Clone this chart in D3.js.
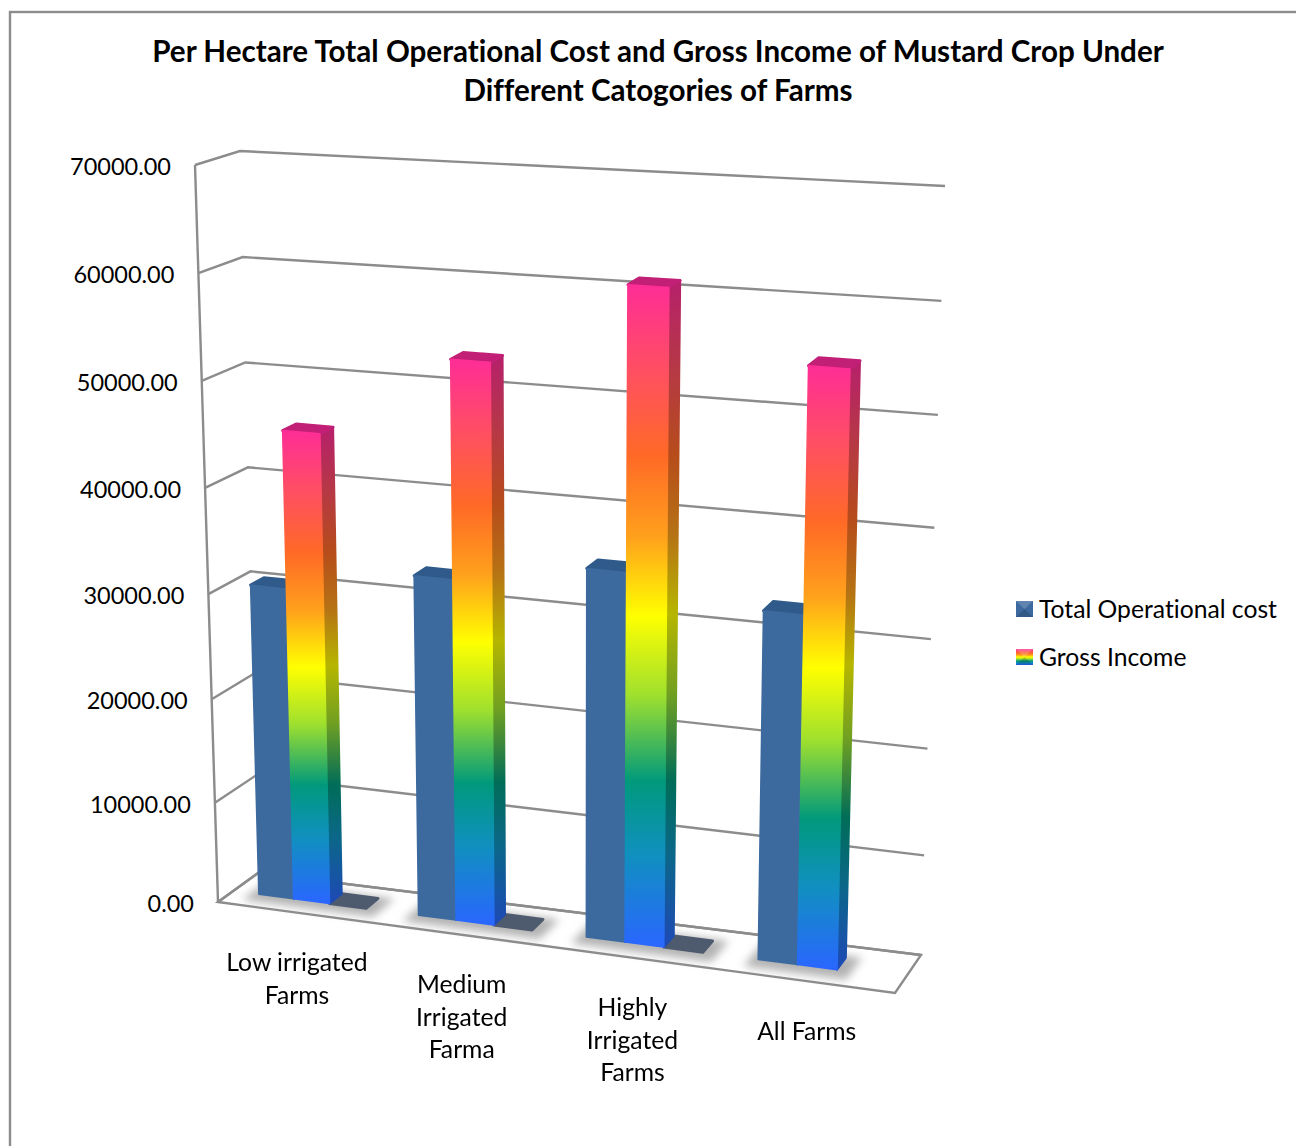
<!DOCTYPE html>
<html>
<head>
<meta charset="utf-8">
<script src="https://cdn.jsdelivr.net/npm/d3@7"></script>
<style>
  html, body { margin: 0; padding: 0; background: #fff; }
  svg { display: block; }
  text { font-family: Lato, "Open Sans", sans-serif; fill: #000; font-variant-ligatures: none; }
</style>
</head>
<body>
<div id="chart"></div>
<script>
////////////////////////////////////////////////////////////////////////
// Data

let titleLines = ["Per Hectare Total Operational Cost and Gross Income of Mustard Crop Under",
                  "Different Catogories of Farms"];
let categories = ["Low irrigated Farms", "Medium Irrigated Farma", "Highly Irrigated Farms", "All Farms"];
let categoryLines = [["Low irrigated", "Farms"],
                     ["Medium", "Irrigated", "Farma"],
                     ["Highly", "Irrigated", "Farms"],
                     ["All Farms"]];
let operationalCost = [30300, 32800, 35100, 32900];
let grossIncome = [45200, 53100, 61000, 55000];
// a third, unnamed series sits flat on the floor in the first three groups
let unnamedSeries = [0, 0, 0, null];
let yTicks = [0, 10000, 20000, 30000, 40000, 50000, 60000, 70000];
let legendNames = ["Total Operational cost", "Gross Income"];

let rainbowOffsets = [0, 0.13, 0.26, 0.38, 0.5, 0.62, 0.75, 0.86, 1];
let rainbowColors = ["#ff2d96", "#ff4f62", "#ff6a26", "#ffa01c", "#ffff00", "#9fe02e", "#00997c", "#1090bf", "#2a66ff"];

////////////////////////////////////////////////////////////////////////
// Setup

let width = 1296;
let height = 1146;

let svg = d3.select("#chart")
  .append("svg")
  .attr("width", width).attr("height", height);

let defs = svg.append("defs");

function addGradient(id, colorFn) {
  let g = defs.append("linearGradient")
    .attr("id", id)
    .attr("x1", 0).attr("y1", 0).attr("x2", 0).attr("y2", 1);
  rainbowColors.forEach(function(c, i) {
    g.append("stop").attr("offset", rainbowOffsets[i]).attr("stop-color", colorFn(c));
  });
}
addGradient("rainbow", function(c) { return c; });
addGradient("rainbowSide", function(c) { return d3.color(c).darker(0.95).formatHex(); });

defs.append("filter").attr("id", "blur")
  .attr("x", "-30%").attr("y", "-80%").attr("width", "160%").attr("height", "260%")
  .append("feGaussianBlur").attr("stdDeviation", 4);

////////////////////////////////////////////////////////////////////////
// The fake 3d box: each corner of the box is a pair of scales running
// from the floor to the top of the chart

function cornerScale(bottom, top, exponent) {
  return {
    x: d3.scalePow().exponent(exponent).domain([0, 70000]).range([bottom[0], top[0]]),
    y: d3.scalePow().exponent(exponent).domain([0, 70000]).range([bottom[1], top[1]])
  };
}
let frontLeft = cornerScale([218, 902], [195, 165], 1.03);
let backLeft = cornerScale([258, 873], [240, 151], 1.03);
let backRight = cornerScale([921, 955], [945, 186], 1.05);
let frontRight = cornerScale([895, 993], [914, 209], 1.05);

// u runs along the categories, z runs from the front of the box to the back
function project(u, value, z) {
  let fx = frontLeft.x(value) + (frontRight.x(value) - frontLeft.x(value)) * u;
  let fy = frontLeft.y(value) + (frontRight.y(value) - frontLeft.y(value)) * u;
  let bx = backLeft.x(value) + (backRight.x(value) - backLeft.x(value)) * u;
  let by = backLeft.y(value) + (backRight.y(value) - backLeft.y(value)) * u;
  return [fx + (bx - fx) * z, fy + (by - fy) * z];
}

let xBand = d3.scaleBand()
  .domain(categories)
  .range([0, 0.995])
  .paddingInner(0.32)
  .paddingOuter(0.16)
  .align(0.56);
let uWarp = d3.scalePow().exponent(1.05).domain([0, 1]).range([0, 1]);
let zFront = 0.38;
let zBack = 0.70;

function poly(points) {
  return points.map(function(p) { return p.join(","); }).join(" ");
}

////////////////////////////////////////////////////////////////////////
// Frame and title

svg.append("rect")
  .attr("x", 10).attr("y", 12)
  .attr("width", width + 20).attr("height", height + 20)
  .attr("fill", "#fff")
  .attr("stroke", "#8c8c8c").attr("stroke-width", 2.4);

svg.selectAll(".title")
  .data(titleLines)
  .enter()
  .append("text")
  .attr("class", "title")
  .attr("x", 658)
  .attr("y", function(d, i) { return 52 + i * 39; })
  .attr("dy", "0.35em")
  .attr("text-anchor", "middle")
  .attr("font-weight", "bold")
  .attr("font-size", 29.6)
  .text(function(d) { return d; });

////////////////////////////////////////////////////////////////////////
// Walls and floor

let wallStroke = "#8c8c8c";
let walls = svg.append("g")
  .attr("fill", "none")
  .attr("stroke", wallStroke)
  .attr("stroke-width", 2.4);

walls.append("polygon")
  .attr("points", poly([project(0, 0, 0), project(1, 0, 0), project(1, 0, 1), project(0, 0, 1)]))
  .attr("fill", "#fff");

walls.selectAll(".grid")
  .data(yTicks)
  .enter()
  .append("polyline")
  .attr("class", "grid")
  .attr("points", function(d) { return poly([project(0, d, 0), project(0, d, 1), project(1, d, 1)]); });

walls.append("line")
  .attr("x1", project(0, 0, 0)[0]).attr("y1", project(0, 0, 0)[1])
  .attr("x2", project(0, 70000, 0)[0]).attr("y2", project(0, 70000, 0)[1]);

svg.selectAll(".ytick")
  .data(yTicks)
  .enter()
  .append("text")
  .attr("class", "ytick")
  .attr("x", function(d) { return project(0, d, 0)[0] - 24; })
  .attr("y", function(d) { return project(0, d, 0)[1] + 2; })
  .attr("dy", "0.35em")
  .attr("text-anchor", "end")
  .attr("font-size", 23.5)
  .text(d3.format(".2f"));

////////////////////////////////////////////////////////////////////////
// Bars

// corners of one bar, slot is 0, 1 or 2 inside the group
function barCorners(category, slot, value) {
  let slotWidth = xBand.bandwidth() / 3;
  let u0 = uWarp(xBand(category) + slot * slotWidth);
  let u1 = uWarp(xBand(category) + (slot + 1) * slotWidth);
  return {
    fl: project(u0, 0, zFront), fr: project(u1, 0, zFront), br: project(u1, 0, zBack), bl: project(u0, 0, zBack),
    tfl: project(u0, value, zFront), tfr: project(u1, value, zFront), tbr: project(u1, value, zBack), tbl: project(u0, value, zBack)
  };
}

function drawBar(g, category, slot, value, front, side, cap) {
  let c = barCorners(category, slot, value);
  g.append("polygon").attr("points", poly([c.fr, c.br, c.tbr, c.tfr]))
    .attr("fill", side).attr("stroke", side).attr("stroke-width", 2).attr("stroke-linejoin", "round");
  g.append("polygon").attr("points", poly([c.tfl, c.tfr, c.tbr, c.tbl]))
    .attr("fill", cap).attr("stroke", cap).attr("stroke-width", 3).attr("stroke-linejoin", "round");
  g.append("polygon").attr("points", poly([c.fl, c.fr, c.tfr, c.tfl]))
    .attr("fill", front).attr("stroke", front).attr("stroke-width", 1.5).attr("stroke-linejoin", "round");
}

// soft shadows on the floor go under all the bars
let shadows = svg.append("g").attr("filter", "url(#blur)");
categories.forEach(function(cat, i) {
  let lastSlot = unnamedSeries[i] === null ? 1 : 2;
  let u0 = uWarp(xBand(cat)) - 0.012;
  let u1 = uWarp(xBand(cat) + (lastSlot + 1) * xBand.bandwidth() / 3) + 0.022;
  shadows.append("polygon")
    .attr("points", poly([project(u0, 0, zFront - 0.22), project(u1, 0, zFront - 0.22),
                          project(u1, 0, zBack + 0.05), project(u0, 0, zBack + 0.05)]))
    .attr("fill", "#9a9a9a")
    .attr("opacity", 0.75);
});

let bars = svg.append("g");
categories.forEach(function(cat, i) {
  if (unnamedSeries[i] !== null) {
    let c = barCorners(cat, 2, unnamedSeries[i]);
    bars.append("polygon")
      .attr("points", poly([c.fl, c.fr, c.br, c.bl]))
      .attr("fill", "#4e5a6e").attr("stroke", "#4e5a6e")
      .attr("stroke-width", 3).attr("stroke-linejoin", "round");
  }
  drawBar(bars, cat, 0, operationalCost[i], "#3d6a9e", "#2d5a8c", "#2f5a8a");
  drawBar(bars, cat, 1, grossIncome[i], "url(#rainbow)", "url(#rainbowSide)", "#c21f76");
});

////////////////////////////////////////////////////////////////////////
// Category labels

categories.forEach(function(cat, i) {
  let u = uWarp(xBand(cat) + xBand.bandwidth() / 2);
  let p = project(u, 0, 0);
  svg.append("g").selectAll("text")
    .data(categoryLines[i])
    .enter()
    .append("text")
    .attr("x", p[0])
    .attr("y", function(d, j) { return p[1] + 50 + j * 32.5; })
    .attr("dy", "0.35em")
    .attr("text-anchor", "middle")
    .attr("font-size", 24.7)
    .text(function(d) { return d; });
});

////////////////////////////////////////////////////////////////////////
// Legend

let legend = svg.selectAll(".legend")
  .data(legendNames)
  .enter()
  .append("g")
  .attr("class", "legend")
  .attr("transform", function(d, i) { return "translate(1016," + (601 + i * 48) + ")"; });

legend.append("rect")
  .attr("width", 17).attr("height", 16)
  .attr("fill", function(d, i) { return i === 0 ? "#3d6a9e" : "url(#rainbow)"; });

// little bevel on the swatches
legend.append("polygon")
  .attr("points", "0,0 17,0 8.5,8")
  .attr("fill", "#fff").attr("opacity", 0.18);
legend.append("polygon")
  .attr("points", "0,16 17,16 8.5,8")
  .attr("fill", "#000").attr("opacity", 0.15);

legend.append("text")
  .attr("x", 23).attr("y", 8)
  .attr("dy", "0.35em")
  .attr("font-size", 24.7)
  .text(function(d) { return d; });
</script>
</body>
</html>
